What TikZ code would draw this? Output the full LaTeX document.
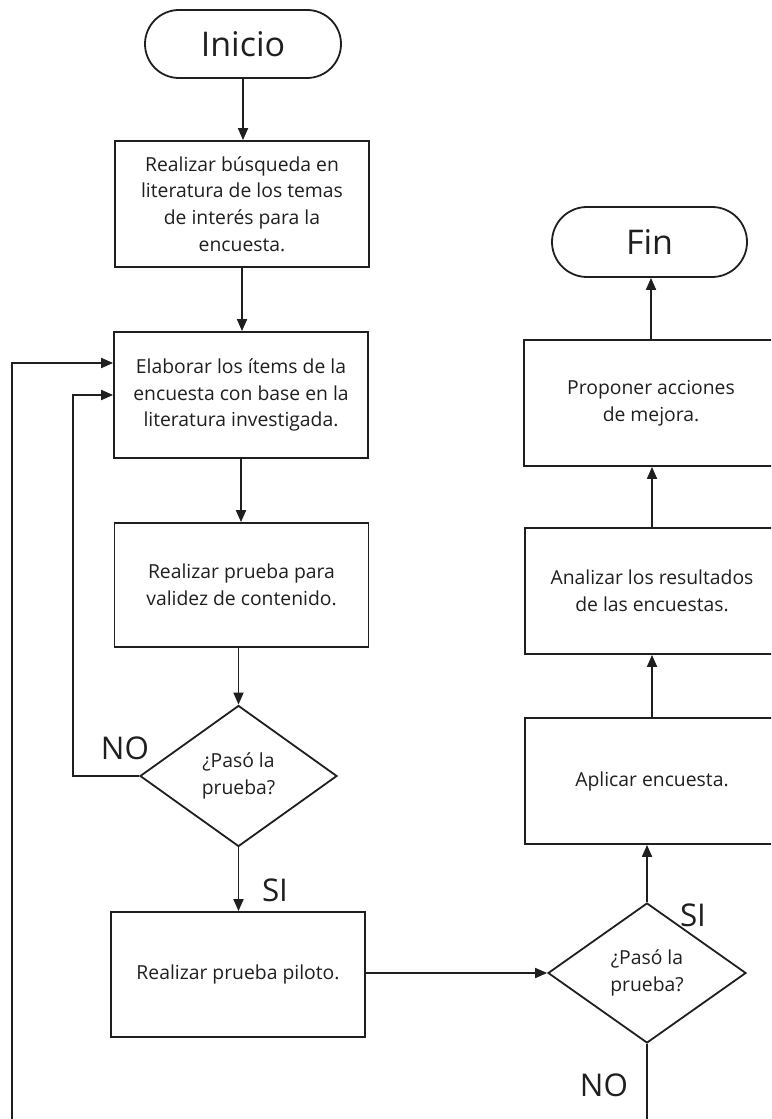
\documentclass[tikz,border=0pt]{standalone}
\usepackage{fontspec}
\setmainfont{Open Sans}
\usetikzlibrary{arrows.meta,shapes.geometric,shapes.misc,calc}

\begin{document}
\begin{tikzpicture}[x=0.75pt,y=-0.75pt,
  line width=1.35pt, color=black!88,
  every node/.style={font=\fontsize{14.5}{20}\selectfont},
  proc/.style={draw, rectangle, minimum width=190.5pt, minimum height=94.5pt, align=center, inner sep=0pt},
  term/.style={draw, rounded rectangle, minimum width=147pt, minimum height=51pt, inner sep=0pt,
    font=\fontsize{25.5}{28}\selectfont},
  decis/.style={draw, diamond, minimum width=147.75pt, minimum height=105.75pt, align=center, inner sep=0pt},
  flow/.style={-{Triangle[length=9pt,width=7.5pt]}},
  answer/.style={font=\fontsize{23.5}{26}\selectfont}
]
\useasboundingbox (0,0) rectangle (771,1119);
\clip (0,0) rectangle (771,1119);

% left column
\node[term] (inicio) at (243,44) {Inicio};
\node[proc] (b1) at (242,204) {Realizar búsqueda en\\literatura de los temas\\de interés para la\\encuesta.};
\node[proc] (b2) at (241,395) {Elaborar los ítems de la\\encuesta con base en la\\literatura investigada.};
\node[proc, minimum height=93pt] (b3) at (241.5,585) {Realizar prueba para\\validez de contenido.};
\node[decis] (d1) at (238.5,776) {¿Pasó la\\prueba?};
\node[proc, minimum height=93.75pt] (b4) at (238,974.5) {Realizar prueba piloto.};

% right column
\node[decis, minimum width=148.5pt, minimum height=105pt] (d2) at (647,973) {¿Pasó la\\prueba?};
\node[proc] (b5) at (652,781) {Aplicar encuesta.};
\node[proc] (b6) at (652,591) {Analizar los resultados\\de las encuestas.};
\node[proc] (b7) at (651,403) {Proponer acciones\\de mejora.};
\node[term, minimum width=146.25pt, minimum height=52.5pt] (fin) at (649.5,242) {Fin};

% branch labels
\node[answer] (no1) at (125,748) {NO};
\node[answer] (si1) at (275,890) {SI};
\node[answer] (si2) at (693,915) {SI};
\node[answer] (no2) at (604,1085) {NO};

% main flow
\draw[flow] (inicio.south) -- (inicio.south |- b1.north);
\draw[flow] (b1.south) -- (b1.south |- b2.north);
\draw[flow] (b2.south) -- (b2.south |- b3.north);
\draw[flow] (b3.south -| d1.north) -- (d1.north);
\draw[flow] (d1.south) -- (d1.south |- b4.north);
\draw[flow] (b4.east |- d2.west) -- (d2.west);
\draw[flow] (d2.north) -- (d2.north |- b5.south);
\draw[flow] (b5.north) -- (b5.north |- b6.south);
\draw[flow] (b6.north) -- (b6.north |- b7.south);
\draw[flow] (b7.north) -- (b7.north |- fin.south);

% feedback loops
\draw[flow] (d1.west) -- ++(-66,0) |- (b2.west);
\coordinate (lowturn) at (12,1135);
\draw[flow] (d2.south) |- (lowturn) |- ($(b2.west)+(0,-32)$);
\end{tikzpicture}
\end{document}
